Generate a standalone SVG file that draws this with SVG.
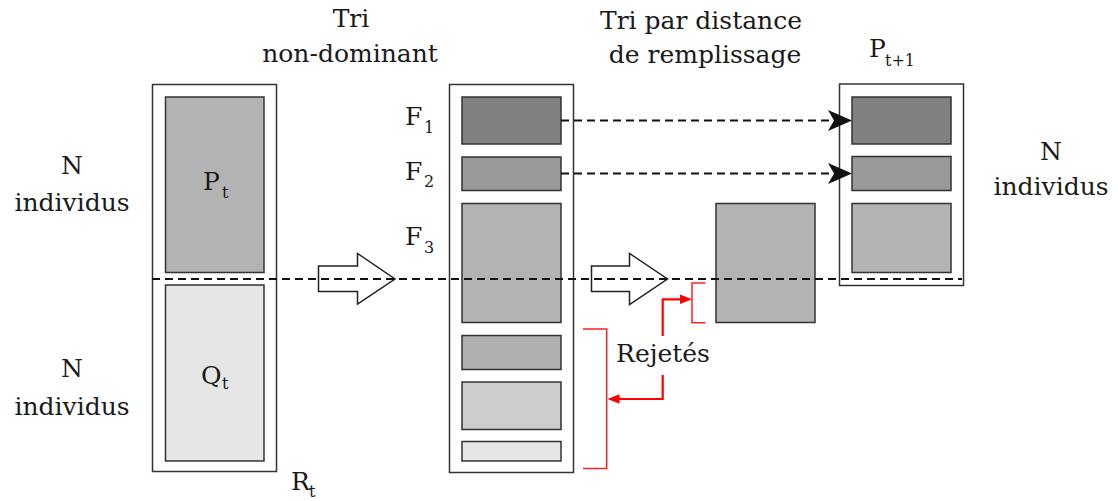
<svg xmlns="http://www.w3.org/2000/svg" width="1118" height="501" viewBox="0 0 1118 501" font-family="'DejaVu Serif', 'Liberation Serif', serif">
<defs>
<style>
text{font-family:'DejaVu Serif','Liberation Serif',serif;fill:#1a1a1a;}
.lbl{font-size:25px;}
.sub{font-size:16px;}
.outer{fill:#fff;stroke:#333;stroke-width:1.5;}
.inner{stroke:#333;stroke-width:1.5;}
.dash{fill:none;stroke:#111;stroke-width:2;stroke-dasharray:8,5;}
.red{fill:none;stroke:#ff2020;stroke-width:1.5;}
.redt{fill:none;stroke:#ff0000;stroke-width:2.2;}
.hollow{fill:#fff;stroke:#222;stroke-width:1.5;}
</style>
</defs>
<rect width="1118" height="501" fill="#fff"/>

<g id="Rt">
<rect class="outer" x="152.5" y="84.5" width="124" height="387"/>
<rect class="inner" x="165.5" y="97" width="98.5" height="175.5" fill="#b3b3b3"/>
<rect class="inner" x="165.5" y="285" width="98.5" height="176" fill="#e6e6e6"/>
<text class="lbl" x="203" y="190">P</text><text class="sub" x="222" y="198">t</text>
<text class="lbl" x="201" y="384">Q</text><text class="sub" x="222" y="389">t</text>
<text class="lbl" x="291" y="490">R</text><text class="sub" x="309" y="497">t</text>
</g>

<g id="labelsLeft">
<text class="lbl" x="72" y="174" text-anchor="middle">N</text>
<text class="lbl" x="72" y="211" text-anchor="middle">individus</text>
<text class="lbl" x="72" y="377" text-anchor="middle">N</text>
<text class="lbl" x="72" y="415" text-anchor="middle">individus</text>
</g>

<g id="titles">
<text class="lbl" x="351" y="27" text-anchor="middle">Tri</text>
<text class="lbl" x="350" y="62" text-anchor="middle">non-dominant</text>
<text class="lbl" x="701" y="29" text-anchor="middle">Tri par distance</text>
<text class="lbl" x="705" y="63" text-anchor="middle">de remplissage</text>
</g>

<g id="fronts">
<rect class="outer" x="449.5" y="84.5" width="124" height="388"/>
<rect class="inner" x="462" y="97" width="99" height="47" fill="#808080"/>
<rect class="inner" x="462" y="157" width="99" height="33.5" fill="#999999"/>
<rect class="inner" x="462" y="203.5" width="99" height="119" fill="#b3b3b3"/>
<rect class="inner" x="462" y="335.5" width="99" height="34" fill="#b0b0b0"/>
<rect class="inner" x="462" y="382" width="99" height="47.5" fill="#cccccc"/>
<rect class="inner" x="462" y="441.5" width="99" height="19.5" fill="#e6e6e6"/>
<text class="lbl" x="405" y="125">F</text><text class="sub" x="424" y="133">1</text>
<text class="lbl" x="405" y="180">F</text><text class="sub" x="424" y="187">2</text>
<text class="lbl" x="405" y="245">F</text><text class="sub" x="424" y="253">3</text>
</g>

<g id="F3sorted">
<rect class="inner" x="716" y="203.5" width="99" height="119" fill="#b3b3b3"/>
</g>

<g id="Pt1">
<rect class="outer" x="839.5" y="84" width="124" height="201.5"/>
<rect class="inner" x="852" y="97" width="99" height="47" fill="#808080"/>
<rect class="inner" x="852" y="156.5" width="99" height="34" fill="#999999"/>
<rect class="inner" x="852" y="203.5" width="99" height="69" fill="#b3b3b3"/>
<text class="lbl" x="869" y="57">P</text><text class="sub" x="885" y="66">t+1</text>
<text class="lbl" x="1051" y="160" text-anchor="middle">N</text>
<text class="lbl" x="1051" y="195" text-anchor="middle">individus</text>
</g>

<g id="connectors">
<path class="hollow" d="M318.5,266 H357.5 V253.5 L395,279 L357.5,304 V291.5 H318.5 Z"/>
<path class="hollow" d="M591.5,266 H629.5 V253.5 L667.5,279 L629.5,304.5 V291.5 H591.5 Z"/>
<line class="dash" x1="152" y1="279" x2="962" y2="279"/>
<line class="dash" x1="561" y1="120.5" x2="834" y2="120.5"/>
<path d="M852,120.5 L828,110 L834,120.5 L828,131 Z" fill="#111"/>
<line class="dash" x1="561" y1="173.5" x2="834" y2="173.5"/>
<path d="M852,173.5 L828,163 L834,173.5 L828,184 Z" fill="#111"/>
<path class="red" d="M583,329 H606.7 V468.5 H583"/>
<path class="red" d="M705.5,283 H692 V322.7 H705.5"/>
<path class="redt" d="M662.7,336 V299.3 H682"/>
<path d="M692,299.3 L680,294.5 L680,304.1 Z" fill="#ff0000"/>
<path class="redt" d="M662.7,375 V399 H618"/>
<path d="M607.5,399 L619.5,394.2 L619.5,403.8 Z" fill="#ff0000"/>
<text class="lbl" x="663" y="362" text-anchor="middle">Rejetés</text>
</g>
</svg>
